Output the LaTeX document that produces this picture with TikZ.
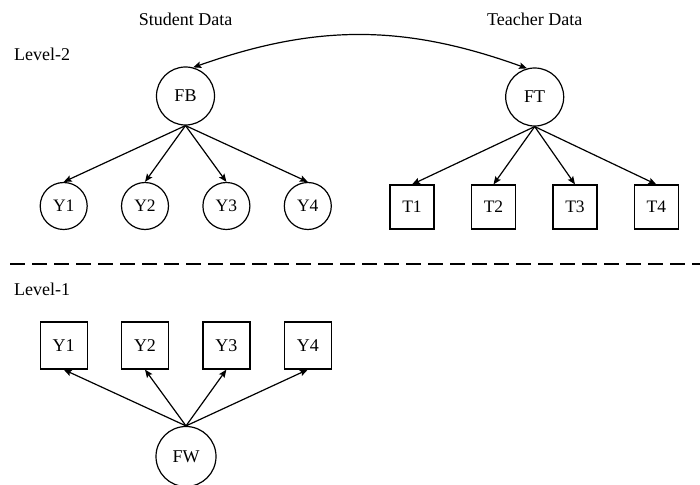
\documentclass[tikz,border=0pt]{standalone}
\usepackage{fontspec}
\setmainfont{Liberation Serif}
\usetikzlibrary{arrows.meta}
\begin{document}
\begin{tikzpicture}[x=1pt,y=-1pt,
  every node/.style={font=\fontsize{18}{20}\selectfont, inner sep=0pt},
  lat/.style={draw, line width=1.2pt, circle, minimum size=58pt},
  ind/.style={draw, line width=1.2pt, circle, minimum size=47pt, font=\fontsize{17.5}{20}\selectfont},
  tbox/.style={draw, line width=1.2pt, rectangle, minimum size=44pt, font=\fontsize{17.5}{20}\selectfont},
  wbox/.style={draw, line width=1.2pt, rectangle, minimum size=47pt},
  arr/.style={line width=1.2pt, -{Stealth[length=8pt,width=6.5pt,inset=1.5pt]}},
  lbl/.style={anchor=base}]
\useasboundingbox (0,0) rectangle (700,484);
% headings
\node[lbl] (sd) at (185.5,25.7) {Student Data};
\node[lbl] (td) at (534.7,25.7) {Teacher Data};
\node[lbl, anchor=base west] (l2) at (14,61) {Level-2};
\node[lbl, anchor=base west] (l1) at (14,295) {Level-1};
% level 2
\node[lat] (FB) at (185.5,96) {FB};
\node[lat] (FT) at (534.7,97) {FT};
\node[ind] (Y1) at (63.7,206) {Y1};
\node[ind] (Y2) at (145,206) {Y2};
\node[ind] (Y3) at (226.4,206) {Y3};
\node[ind] (Y4) at (307.8,206) {Y4};
\node[tbox] (T1) at (412,207) {T1};
\node[tbox] (T2) at (493.5,207) {T2};
\node[tbox] (T3) at (575,207) {T3};
\node[tbox] (T4) at (656.3,207) {T4};
\foreach \i in {1,2,3,4} {
  \draw[arr] (FB.south) -- (Y\i.north);
  \draw[arr] (FT.south) -- (T\i.north);
}
\draw[line width=1.2pt, {Stealth[length=8pt,width=6.5pt,inset=1.5pt]}-{Stealth[length=8pt,width=6.5pt,inset=1.5pt]}]
  (FB.75) .. controls (316,24) and (404,24) .. (FT.105);
% divider
\coordinate (dl) at (10,264);
\coordinate (dr) at (700,264);
\draw[line width=1.2pt, dash pattern=on 15pt off 7pt] (dl) -- (dr);
% level 1
\node[wbox] (W1) at (63.7,345.5) {Y1};
\node[wbox] (W2) at (145,345.5) {Y2};
\node[wbox] (W3) at (226.4,345.5) {Y3};
\node[wbox] (W4) at (307.8,345.5) {Y4};
\node[lat, minimum size=60pt] (FW) at (186,456.5) {FW};
\foreach \i in {1,2,3,4} {
  \draw[arr] (FW.north) -- (W\i.south);
}
\end{tikzpicture}
\end{document}
